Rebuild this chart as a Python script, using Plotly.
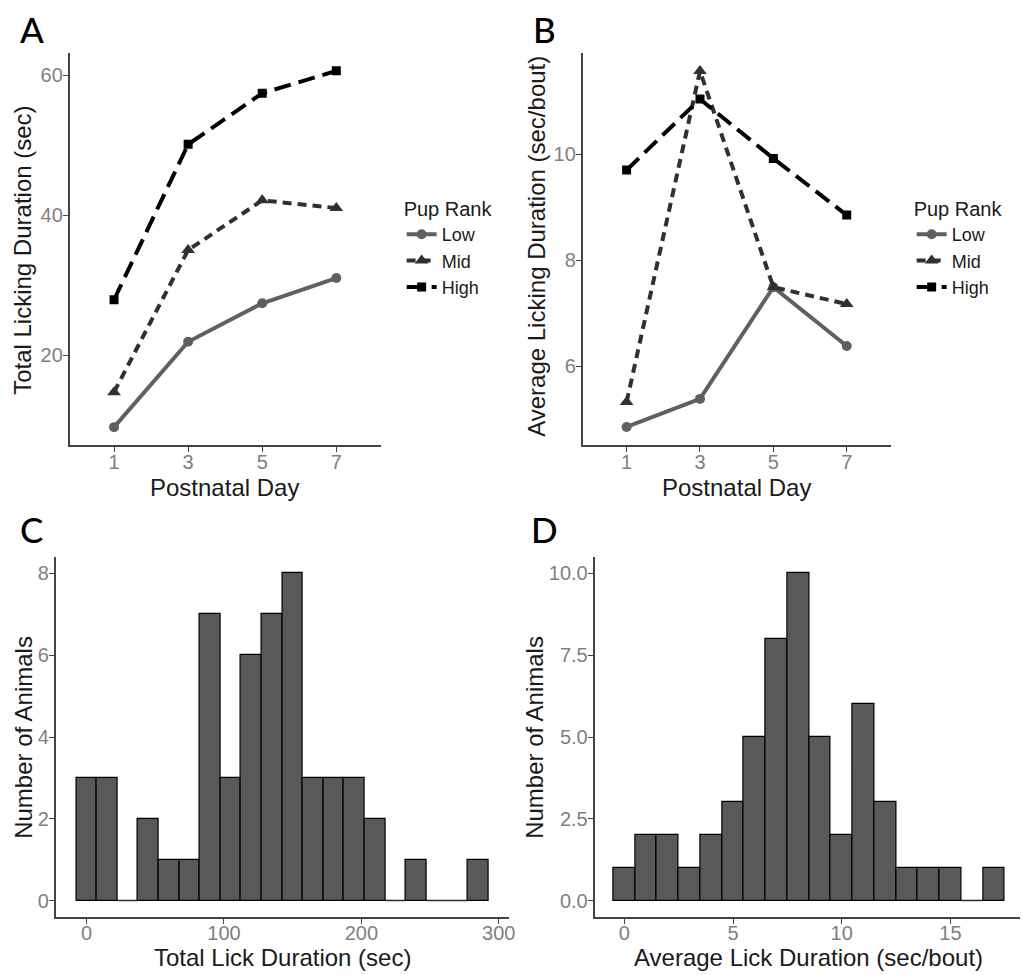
import plotly.graph_objects as go

W, H = 1026, 975

# ---------------- data ----------------
days = [1, 3, 5, 7]
ranks = ["Low", "Mid", "High"]
total_low = [9.7, 21.9, 27.4, 31.0]
total_mid = [14.7, 35.0, 42.1, 41.0]
total_high = [27.9, 50.1, 57.4, 60.6]
avg_low = [4.85, 5.38, 7.49, 6.38]
avg_mid = [5.32, 11.57, 7.49, 7.17]
avg_high = [9.70, 11.04, 9.92, 8.85]

c_bin_centers = [0, 15, 30, 45, 60, 75, 90, 105, 120, 135, 150, 165, 180, 195, 210, 225, 240, 255, 270, 285]
c_counts = [3, 3, 0, 2, 1, 1, 7, 3, 6, 7, 8, 3, 3, 3, 2, 0, 1, 0, 0, 1]
c_binwidth = 15

d_bin_centers = [0, 1, 2, 3, 4, 5, 6, 7, 8, 9, 10, 11, 12, 13, 14, 15, 16, 17]
d_counts = [1, 2, 2, 1, 2, 3, 5, 8, 10, 5, 2, 6, 3, 1, 1, 1, 0, 1]
d_binwidth = 1

# ---------------- styles ----------------
FONT = "Liberation Sans, Arial, sans-serif"
styles = {
    "Low": dict(color="#606060", dash="solid", symbol="circle", size=10),
    "Mid": dict(color="#303030", dash="9px,6px", symbol="triangle-up", size=12),
    "High": dict(color="#000000", dash="17px,8px", symbol="square", size=9),
}


def px(x):
    return x / W


def py(y):
    return 1 - y / H


fig = go.Figure()

series_a = {"Low": total_low, "Mid": total_mid, "High": total_high}
series_b = {"Low": avg_low, "Mid": avg_mid, "High": avg_high}

for name in ranks:
    s = styles[name]
    fig.add_trace(go.Scatter(
        x=days, y=series_a[name], name=name, mode="lines+markers",
        line=dict(color=s["color"], width=4, dash=s["dash"]),
        marker=dict(symbol=s["symbol"], size=s["size"], color=s["color"]),
        xaxis="x", yaxis="y", legend="legend",
    ))
for name in ranks:
    s = styles[name]
    fig.add_trace(go.Scatter(
        x=days, y=series_b[name], name=name, mode="lines+markers",
        line=dict(color=s["color"], width=4, dash=s["dash"]),
        marker=dict(symbol=s["symbol"], size=s["size"], color=s["color"]),
        xaxis="x2", yaxis="y2", legend="legend2",
    ))


def zero_segments(centers, counts, bw):
    xs, ys = [], []
    for c, n in zip(centers, counts):
        if n == 0:
            xs += [c - bw / 2, c + bw / 2, None]
            ys += [0, 0, None]
    return xs, ys


for centers, counts, bw, xa, ya in [
    (c_bin_centers, c_counts, c_binwidth, "x3", "y3"),
    (d_bin_centers, d_counts, d_binwidth, "x4", "y4"),
]:
    fig.add_trace(go.Bar(
        x=centers, y=counts, width=[bw] * len(centers),
        marker=dict(color="#595959", line=dict(color="#000000", width=1.2)),
        xaxis=xa, yaxis=ya, showlegend=False,
    ))
    zx, zy = zero_segments(centers, counts, bw)
    fig.add_trace(go.Scatter(
        x=zx, y=zy, mode="lines", line=dict(color="#333333", width=1.2),
        xaxis=xa, yaxis=ya, showlegend=False, hoverinfo="skip",
    ))

axis_common = dict(
    showline=True, linecolor="#444444", linewidth=1.5,
    ticks="outside", ticklen=5, tickwidth=1.3, tickcolor="#444444",
    showgrid=False, zeroline=False,
    tickfont=dict(family=FONT, size=20, color="#7f7f7f"),
    fixedrange=True,
)
xaxis_top = dict(axis_common, ticklabelstandoff=-7)
xaxis_bot = dict(axis_common, ticklabelstandoff=-8)
yaxis_common = dict(axis_common, ticklabelstandoff=-4)

legend_common = dict(
    xanchor="left", yanchor="top",
    title=dict(text="Pup Rank", font=dict(family=FONT, size=20, color="#1a1a1a")),
    font=dict(family=FONT, size=18, color="#1a1a1a"),
    bgcolor="rgba(0,0,0,0)", itemwidth=30, tracegroupgap=0,
)

fig.update_layout(
    width=W, height=H,
    margin=dict(l=0, r=0, t=0, b=0),
    paper_bgcolor="white", plot_bgcolor="white",
    bargap=0,
    xaxis=dict(xaxis_top, domain=[px(70), px(383)], range=[-0.2, 8.2],
               tickvals=days, anchor="y"),
    yaxis=dict(yaxis_common, domain=[py(445), py(53)], range=[7.15, 63.15],
               tickvals=[20, 40, 60], anchor="x"),
    xaxis2=dict(xaxis_top, domain=[px(586), px(896)], range=[-0.2, 8.2],
                tickvals=days, anchor="y2"),
    yaxis2=dict(yaxis_common, domain=[py(445), py(53)], range=[4.51, 11.91],
                tickvals=[6, 8, 10], anchor="x2"),
    xaxis3=dict(xaxis_bot, domain=[px(56), px(512)], range=[-22.5, 307.5],
                tickvals=[0, 100, 200, 300], anchor="y3"),
    yaxis3=dict(yaxis_common, domain=[py(917), py(557)], range=[-0.4, 8.4],
                tickvals=[0, 2, 4, 6, 8], anchor="x3"),
    xaxis4=dict(xaxis_bot, domain=[px(598), 1.0], range=[-1.37, 18.2],
                tickvals=[0, 5, 10, 15], anchor="y4"),
    yaxis4=dict(yaxis_common, domain=[py(917), py(557)], range=[-0.5, 10.5],
                tickvals=[0, 2.5, 5, 7.5, 10],
                ticktext=["0.0", "2.5", "5.0", "7.5", "10.0"], anchor="x4"),
    legend=dict(legend_common, x=px(404), y=py(190)),
    legend2=dict(legend_common, x=px(917), y=py(190)),
)

ann = []
title_font = dict(family=FONT, size=24, color="#1a1a1a")
# x-axis titles
for text, cx, cy in [
    ("Postnatal Day", 226, 487),
    ("Postnatal Day", 741, 487),
    ("Total Lick Duration (sec)", 284, 957),
    ("Average Lick Duration (sec/bout)", 813, 957),
]:
    ann.append(dict(text=text, x=px(cx), y=py(cy), xref="paper", yref="paper",
                    xanchor="center", yanchor="middle", showarrow=False, font=title_font))
# y-axis titles
for text, cx, cy in [
    ("Total Licking Duration (sec)", 23, 250),
    ("Average Licking Duration (sec/bout)", 539, 246),
    ("Number of Animals", 23, 737),
    ("Number of Animals", 537, 737),
]:
    ann.append(dict(text=text, x=px(cx), y=py(cy), xref="paper", yref="paper",
                    xanchor="center", yanchor="middle", showarrow=False,
                    textangle=-90, font=title_font))
# panel letters
for text, cx, cy in [("A", 32, 29), ("B", 548, 29), ("C", 32, 529), ("D", 548, 529)]:
    ann.append(dict(text=text, x=px(cx), y=py(cy), xref="paper", yref="paper",
                    xanchor="center", yanchor="middle", showarrow=False,
                    font=dict(family="Lato, Open Sans, sans-serif", size=35,
                              color="#000000", weight=500)))
fig.update_layout(annotations=ann)

fig.write_html(
    "out.html",
    config={"displayModeBar": False},
    post_script="document.body.style.margin='0';document.body.style.overflow='hidden';",
)
